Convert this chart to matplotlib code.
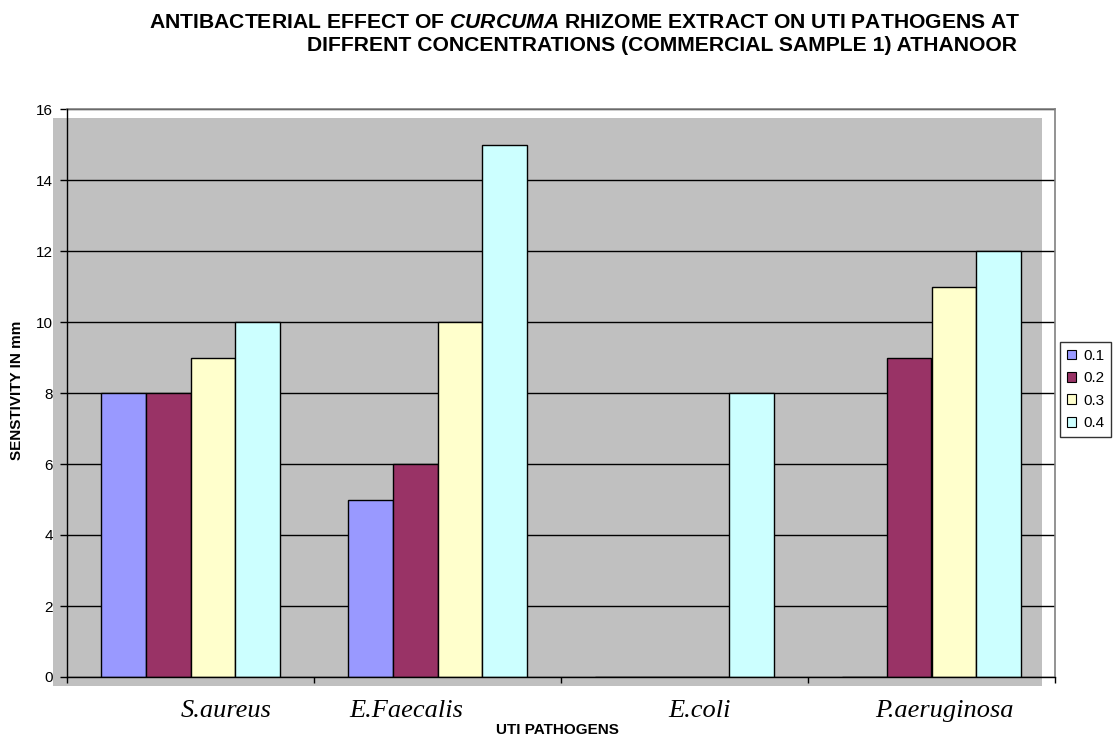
import matplotlib
matplotlib.use('Agg')
import matplotlib.pyplot as plt
from matplotlib.patches import Rectangle, Patch
import numpy as np

plt.rcParams['mathtext.fontset'] = 'custom'
plt.rcParams['mathtext.it'] = 'Liberation Sans:italic:bold'
plt.rcParams['mathtext.rm'] = 'Liberation Sans:bold'

# ---- data ----
pathogens = ['S.aureus', 'E.Faecalis', 'E.coli', 'P.aeruginosa']
concentrations = ['0.1', '0.2', '0.3', '0.4']
conc_01 = [8, 5, 0, 0]
conc_02 = [8, 6, 0, 9]
conc_03 = [9, 10, 0, 11]
conc_04 = [10, 15, 8, 12]
series = [conc_01, conc_02, conc_03, conc_04]
label_offsets = [0.144, -0.128, 0.059, 0.051]
yticks = [0, 2, 4, 6, 8, 10, 12, 14, 16]
colors = ['#9999FF', '#993366', '#FFFFCC', '#CCFFFF']

W, H = 1116, 738
fig = plt.figure(figsize=(W / 100, H / 100), dpi=100)
fig.patch.set_facecolor('white')

ax = fig.add_axes([67 / W, 1 - 677 / H, (1055 - 67) / W, (677 - 109) / H])
ax.set_facecolor('none')

# grey "wall" offset behind plot area
wall = Rectangle((53 / W, 1 - 686 / H), (1042 - 53) / W, (686 - 118) / H,
                 transform=fig.transFigure, facecolor='#C0C0C0',
                 edgecolor='none', zorder=0.1, clip_on=False)
ax.add_patch(wall)

x = np.arange(len(pathogens))
bw = 0.182
for i, (vals, c) in enumerate(zip(series, colors)):
    ax.bar(x + (i - 1.5) * bw, vals, width=bw, color=c, edgecolor='black',
           linewidth=1.0, zorder=3, label=concentrations[i])

ax.set_xlim(-0.5, len(pathogens) - 0.5)
ax.set_ylim(0, 16)
ax.set_yticks(yticks)
ax.set_yticklabels([str(v) for v in yticks], fontsize=11,
                   family='Liberation Sans')
ax.set_xticks(np.arange(len(pathogens) + 1) - 0.5)
ax.set_xticklabels([])
ax.tick_params(axis='y', direction='out', length=5, width=1, pad=5)
ax.tick_params(axis='x', direction='out', length=4, width=1)

ax.yaxis.grid(True, color='black', linewidth=1, zorder=0.5)
ax.set_axisbelow(True)

for s in ['left', 'bottom']:
    ax.spines[s].set_color('black')
    ax.spines[s].set_linewidth(1)
    ax.spines[s].set_zorder(4)
for s in ['top', 'right']:
    ax.spines[s].set_color('#808080')
    ax.spines[s].set_linewidth(1.2)

# category labels (italic Times-like)
for xi, name, off in zip(x, pathogens, label_offsets):
    ax.text(xi + off, -40 / 568, name, transform=ax.get_xaxis_transform(),
            ha='center', va='baseline', fontsize=19, style='italic',
            family='Liberation Serif')

fig.text(557 / W, 1 - 730 / H, 'UTI PATHOGENS', ha='center', va='center',
         fontsize=11, fontweight='bold', family='Liberation Sans')
fig.text(17 / W, 1 - 390 / H, 'SENSTIVITY IN mm', ha='center', va='center',
         rotation=90, fontsize=11, fontweight='bold', family='Liberation Sans')

# title
tkw = dict(ha='right', va='baseline', fontsize=15.2, fontweight='bold',
           family='Liberation Sans')
fig.text(1020 / W, 1 - 28 / H,
         'ANTIBACTERIAL EFFECT OF $\\it{CURCUMA}$ RHIZOME EXTRACT ON UTI PATHOGENS AT',
         **tkw)
fig.text(1017 / W, 1 - 51 / H,
         'DIFFRENT CONCENTRATIONS (COMMERCIAL SAMPLE 1) ATHANOOR', **tkw)

handles = [Patch(facecolor=c, edgecolor='black', linewidth=0.8) for c in colors]
leg = fig.legend(handles, concentrations, loc='upper left',
                 bbox_to_anchor=(1060 / W, 1 - 342 / H), frameon=True,
                 fancybox=False, edgecolor='black',
                 handlelength=0.6, handleheight=0.6, handletextpad=0.45,
                 labelspacing=0.55, borderpad=0.45, borderaxespad=0,
                 prop={'family': 'Liberation Sans', 'size': 11})
leg.get_frame().set_linewidth(1)

fig.savefig('out.png', dpi=100, facecolor='white')
